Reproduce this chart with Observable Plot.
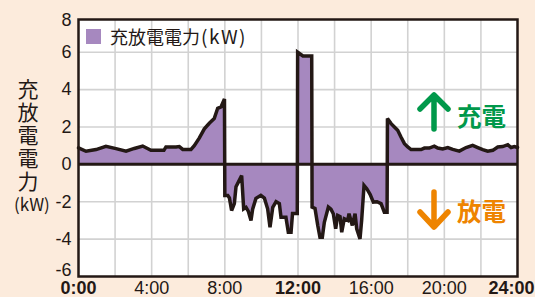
<!DOCTYPE html>
<html>
<head>
<meta charset="utf-8">
<script src="https://cdn.jsdelivr.net/npm/d3@7"></script>
<script src="https://cdn.jsdelivr.net/npm/@observablehq/plot@0.6"></script>
<style>
  html, body { margin: 0; padding: 0; background: #FCEBDC; }
  #wrap { position: relative; width: 535px; height: 297px; overflow: hidden; background: #FCEBDC; }
  #wrap svg { position: absolute; left: 0; top: 0; }
  .ov { position: absolute; font-family: "Noto Sans CJK JP", sans-serif; color: #231815; white-space: nowrap; }
</style>
</head>
<body>
<div id="wrap"></div>
<script>
// time of day (hours) and charge/discharge power (kW)
const hours = [0.00,0.41,0.96,1.50,2.05,2.60,3.05,3.51,3.96,4.67,4.78,5.33,5.51,5.70,6.15,6.33,6.60,6.88,7.15,7.42,7.61,7.79,7.98,
  8.00,8.16,8.25,8.37,8.52,8.61,8.74,8.92,9.03,9.16,9.28,9.43,9.52,9.70,9.97,10.16,10.34,10.47,10.62,10.80,10.98,11.07,11.34,11.47,11.62,11.70,11.96,
  11.98,12.27,12.75,
  12.77,12.93,13.08,13.20,13.33,13.44,13.66,13.80,13.93,14.06,14.17,14.30,14.39,14.53,14.72,14.79,14.97,15.12,15.21,15.39,15.48,15.61,15.76,15.94,16.12,16.32,16.54,16.72,16.87,
  16.89,17.09,17.27,17.45,17.63,17.82,18.00,18.18,18.45,18.73,18.91,19.18,19.45,19.64,19.91,20.19,20.46,20.82,21.19,21.55,21.83,22.10,22.37,22.65,22.92,23.19,23.47,23.65,23.83,24.00];
const power = [0.88,0.70,0.79,0.96,0.84,0.70,0.85,0.98,0.75,0.75,0.93,0.93,0.95,0.80,0.80,1.00,1.40,1.90,2.20,2.45,3.00,3.07,3.50,
  -1.66,-1.66,-1.80,-2.47,-2.10,-1.20,-0.95,-0.60,-2.38,-2.30,-2.50,-3.00,-2.40,-1.82,-1.66,-1.80,-2.38,-3.36,-2.30,-2.00,-2.10,-2.83,-2.83,-3.63,-3.63,-2.63,-2.63,
  6.00,5.80,5.80,
  -2.29,-2.36,-3.27,-3.90,-3.90,-3.10,-2.29,-2.40,-2.64,-3.45,-2.73,-2.80,-3.63,-2.91,-3.00,-2.64,-3.27,-2.64,-3.45,-3.99,-3.00,-1.13,-1.30,-1.60,-2.02,-2.00,-2.10,-2.56,-2.56,
  2.45,2.18,2.00,1.82,1.46,1.11,0.93,0.79,0.80,0.79,0.87,0.87,0.97,0.87,0.82,0.90,0.80,0.71,0.90,1.02,0.90,0.79,0.70,0.75,0.93,0.95,1.05,0.90,0.95,0.90];

const xGridTicks = [2,4,6,8,10,12,14,16,18,20,22];
const xBoldTicks = [0,12];
const xEndTick = [24];
const xPlainTicks = [4,8,16,20];
const yGridTicks = [-4,-2,2,4,6];
const yMidTicks = [-4,-2,0,2,4,6];
const yLowTick = [-6];
const yTopTick = [8];

const seriesName = "充放電電力";
const seriesUnit = "(kW)";
const yTitle = "充放電電力";
const yTitleUnit = "(kW)";
const chargeLabel = "充電";
const dischargeLabel = "放電";

const data = hours.map((h, i) => ({h, v: power[i]}));

const ink = "#231815";
const purple = "#A688BF";
const gridColor = "#D2D2D2";
const fmtH = d => d + ":00";
const fmtV = d => String(d);

const chart = Plot.plot({
  width: 535,
  height: 297,
  marginLeft: 78,
  marginRight: 18,
  marginTop: 19,
  marginBottom: 21,
  x: {domain: [0, 24]},
  y: {domain: [-6, 7.75]},
  style: {
    background: "transparent",
    fontFamily: "'Liberation Sans Narrow', 'Liberation Sans', Arial, sans-serif",
    fontSize: "18px",
    color: ink
  },
  marks: [
    Plot.frame({fill: "white"}),
    Plot.gridX(xGridTicks, {stroke: gridColor, strokeOpacity: 1, strokeWidth: 1.6}),
    Plot.gridY(yGridTicks, {stroke: gridColor, strokeOpacity: 1, strokeWidth: 1.6}),
    Plot.areaY(data, {x: "h", y: "v", fill: purple}),
    Plot.ruleY([0], {stroke: ink, strokeWidth: 3}),
    Plot.lineY(data, {x: "h", y: "v", stroke: ink, strokeWidth: 3.5, strokeLinejoin: "miter", strokeMiterlimit: 3}),
    Plot.frame({stroke: ink, strokeWidth: 2.5}),
    Plot.axisX(xBoldTicks, {tickFormat: fmtH, tickSize: 0, tickPadding: 5, fontWeight: 600, label: null, fill: ink}),
    Plot.axisX(xEndTick, {tickFormat: fmtH, tickSize: 0, tickPadding: 5, fontWeight: 600, label: null, fill: ink, dx: -6}),
    Plot.axisX(xPlainTicks, {tickFormat: fmtH, tickSize: 0, tickPadding: 5, label: null, fill: ink}),
    Plot.axisY(yMidTicks, {tickFormat: fmtV, tickSize: 0, tickPadding: 7, label: null, fill: ink}),
    Plot.axisY(yLowTick, {tickFormat: fmtV, tickSize: 0, tickPadding: 7, label: null, fill: ink, dy: -6}),
    Plot.axisY(yTopTick, {tickFormat: fmtV, tickSize: 0, tickPadding: 7, label: null, fill: ink, dy: 5})
  ]
});

const wrap = document.getElementById("wrap");
wrap.appendChild(chart);

// y-axis title (vertical)
const yt = document.createElement("div");
yt.className = "ov";
yt.style.cssText = "left:16px;top:79px;font-size:21px;line-height:24px;writing-mode:vertical-rl;text-orientation:upright;letter-spacing:2px;";
yt.textContent = yTitle;
wrap.appendChild(yt);
const yu = document.createElement("div");
yu.className = "ov";
yu.style.cssText = "left:14px;top:194px;font-size:17px;line-height:20px;";
yu.textContent = yTitleUnit;
wrap.appendChild(yu);

// legend inside plot
const lg = document.createElement("div");
lg.className = "ov";
lg.style.cssText = "left:86px;top:27px;font-size:18px;line-height:18px;display:flex;align-items:center;";
lg.innerHTML = `<span style="display:inline-block;width:15px;height:15px;background:${purple};margin-right:9px"></span><span>${seriesName}</span><span style="font-size:19px;letter-spacing:1.5px;margin-left:1px">${seriesUnit}</span>`;
wrap.appendChild(lg);

// annotations
const green = "#00984A", orange = "#EE8400";
const ann = document.createElementNS("http://www.w3.org/2000/svg", "svg");
ann.setAttribute("width", 535); ann.setAttribute("height", 297);
ann.style.cssText = "position:absolute;left:0;top:0;pointer-events:none";
ann.innerHTML = `
  <g fill="none" stroke-width="5.5" stroke-linecap="round" stroke-linejoin="round">
    <path d="M434,96 V129 M420,109 L434,95 L448,109" stroke="${green}"/>
    <path d="M434,192 V226 M420,212 L434,227 L448,212" stroke="${orange}"/>
  </g>`;
wrap.appendChild(ann);

const a1 = document.createElement("div");
a1.className = "ov";
a1.style.cssText = `left:457px;top:103px;font-size:24.5px;line-height:26px;font-weight:bold;color:${green};`;
a1.textContent = chargeLabel;
wrap.appendChild(a1);
const a2 = document.createElement("div");
a2.className = "ov";
a2.style.cssText = `left:457px;top:198px;font-size:24.5px;line-height:26px;font-weight:bold;color:${orange};`;
a2.textContent = dischargeLabel;
wrap.appendChild(a2);
</script>
</body>
</html>
